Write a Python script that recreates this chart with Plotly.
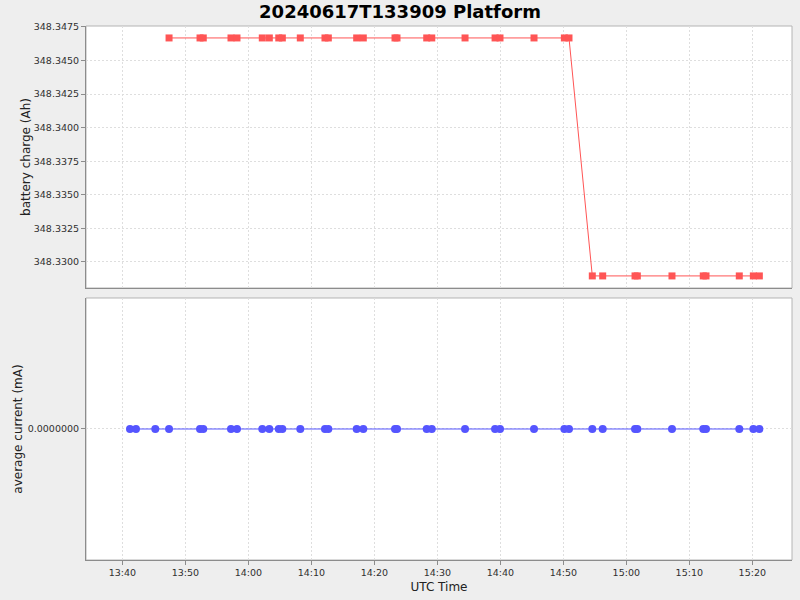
import plotly.graph_objects as go
from plotly.subplots import make_subplots

#####
# Data (UTC, 2024-06-17)
#####

times = ['13:41:13', '13:42:10', '13:45:14', '13:47:25', '13:52:20', '13:52:51',
         '13:57:15', '13:58:12', '14:02:13', '14:03:20', '14:04:50', '14:05:24',
         '14:08:15', '14:12:10', '14:12:42', '14:17:12', '14:18:15', '14:23:17',
         '14:23:36', '14:28:19', '14:29:07', '14:34:24', '14:39:10', '14:39:57',
         '14:45:21', '14:50:10', '14:50:54', '14:54:36', '14:56:15', '15:01:23',
         '15:01:45', '15:07:15', '15:12:13', '15:12:39', '15:17:56', '15:20:10',
         '15:21:07']

# battery charge (Ah), first three samples have no charge reading
charge = [None, None, None] + [348.34668] * 24 + [348.32896] * 10

# average current (mA)
current = [0.0] * len(times)

x_range = ['2024-06-17 13:34:14', '2024-06-17 15:26:18']
x_ticks = ['13:40', '13:50', '14:00', '14:10', '14:20', '14:30', '14:40',
           '14:50', '15:00', '15:10', '15:20']

stamps = ['2024-06-17 ' + t for t in times]
tick_vals = ['2024-06-17 ' + t + ':00' for t in x_ticks]

#####
# Figure
#####

font = 'DejaVu Sans, Liberation Sans, sans-serif'
grid = '#dedede'

fig = make_subplots(rows=2, cols=1, shared_xaxes=True, vertical_spacing=0.0187)

fig.add_trace(go.Scatter(x=stamps, y=charge, mode='lines+markers',
                         line=dict(color='#ff5555', width=1),
                         marker=dict(symbol='square', size=7, color='#ff5555'),
                         showlegend=False), row=1, col=1)

fig.add_trace(go.Scatter(x=stamps, y=current, mode='lines+markers',
                         line=dict(color='#5555ff', width=1),
                         marker=dict(symbol='circle', size=8, color='#5555ff'),
                         showlegend=False), row=2, col=1)

axis_common = dict(showgrid=True, gridcolor=grid, griddash='2px,2px', gridwidth=1,
                   showline=True, linecolor='#8c8c8c', linewidth=1,
                   ticks='outside', ticklen=4, tickcolor='#8c8c8c',
                   tickfont=dict(family=font, size=9.5, color='#303030'),
                   zeroline=False, automargin=False)

title_font = dict(family=font, size=12, color='#222222')

fig.update_xaxes(**axis_common, range=x_range, tickvals=tick_vals, ticktext=x_ticks)
fig.update_xaxes(showticklabels=False, ticks='', row=1, col=1)
fig.update_xaxes(title=dict(text='UTC Time', font=title_font, standoff=5), row=2, col=1)

fig.update_yaxes(**axis_common)
fig.update_yaxes(range=[348.32806, 348.34757], tick0=348.33, dtick=0.0025,
                 tickformat='.4f',
                 title=dict(text='battery charge (Ah)', font=title_font, standoff=0),
                 row=1, col=1)
fig.update_yaxes(range=[-1, 1], tickvals=[0], tickformat='.7f',
                 title=dict(text='average current (mA)', font=title_font, standoff=2),
                 row=2, col=1)

fig.update_layout(
    width=800, height=600,
    paper_bgcolor='#eeeeee', plot_bgcolor='white',
    margin=dict(l=86, r=8, t=26, b=40, autoexpand=False),
    title=dict(text='<b>20240617T133909 Platform</b>', x=0.5, xanchor='center',
               xref='container', yref='container', y=0.98, yanchor='middle',
               font=dict(family=font, size=18, color='black')),
    yaxis=dict(domain=[0.50936, 1]),
    yaxis2=dict(domain=[0, 0.49064]),
)

# light border round each panel
for y0, y1 in [(0.50936, 1), (0, 0.49064)]:
    fig.add_shape(type='rect', xref='paper', yref='paper', x0=0, x1=1, y0=y0, y1=y1,
                  line=dict(color='#b4b4b4', width=1), layer='below')

#  Drop the page's default body margin so the figure sits at the window's corner
page_js = "document.body.style.margin='0';document.body.style.overflow='hidden';" \
          "document.body.style.background='#eeeeee';"

fig.write_html('out.html', post_script=page_js, config=dict(displayModeBar=False))
